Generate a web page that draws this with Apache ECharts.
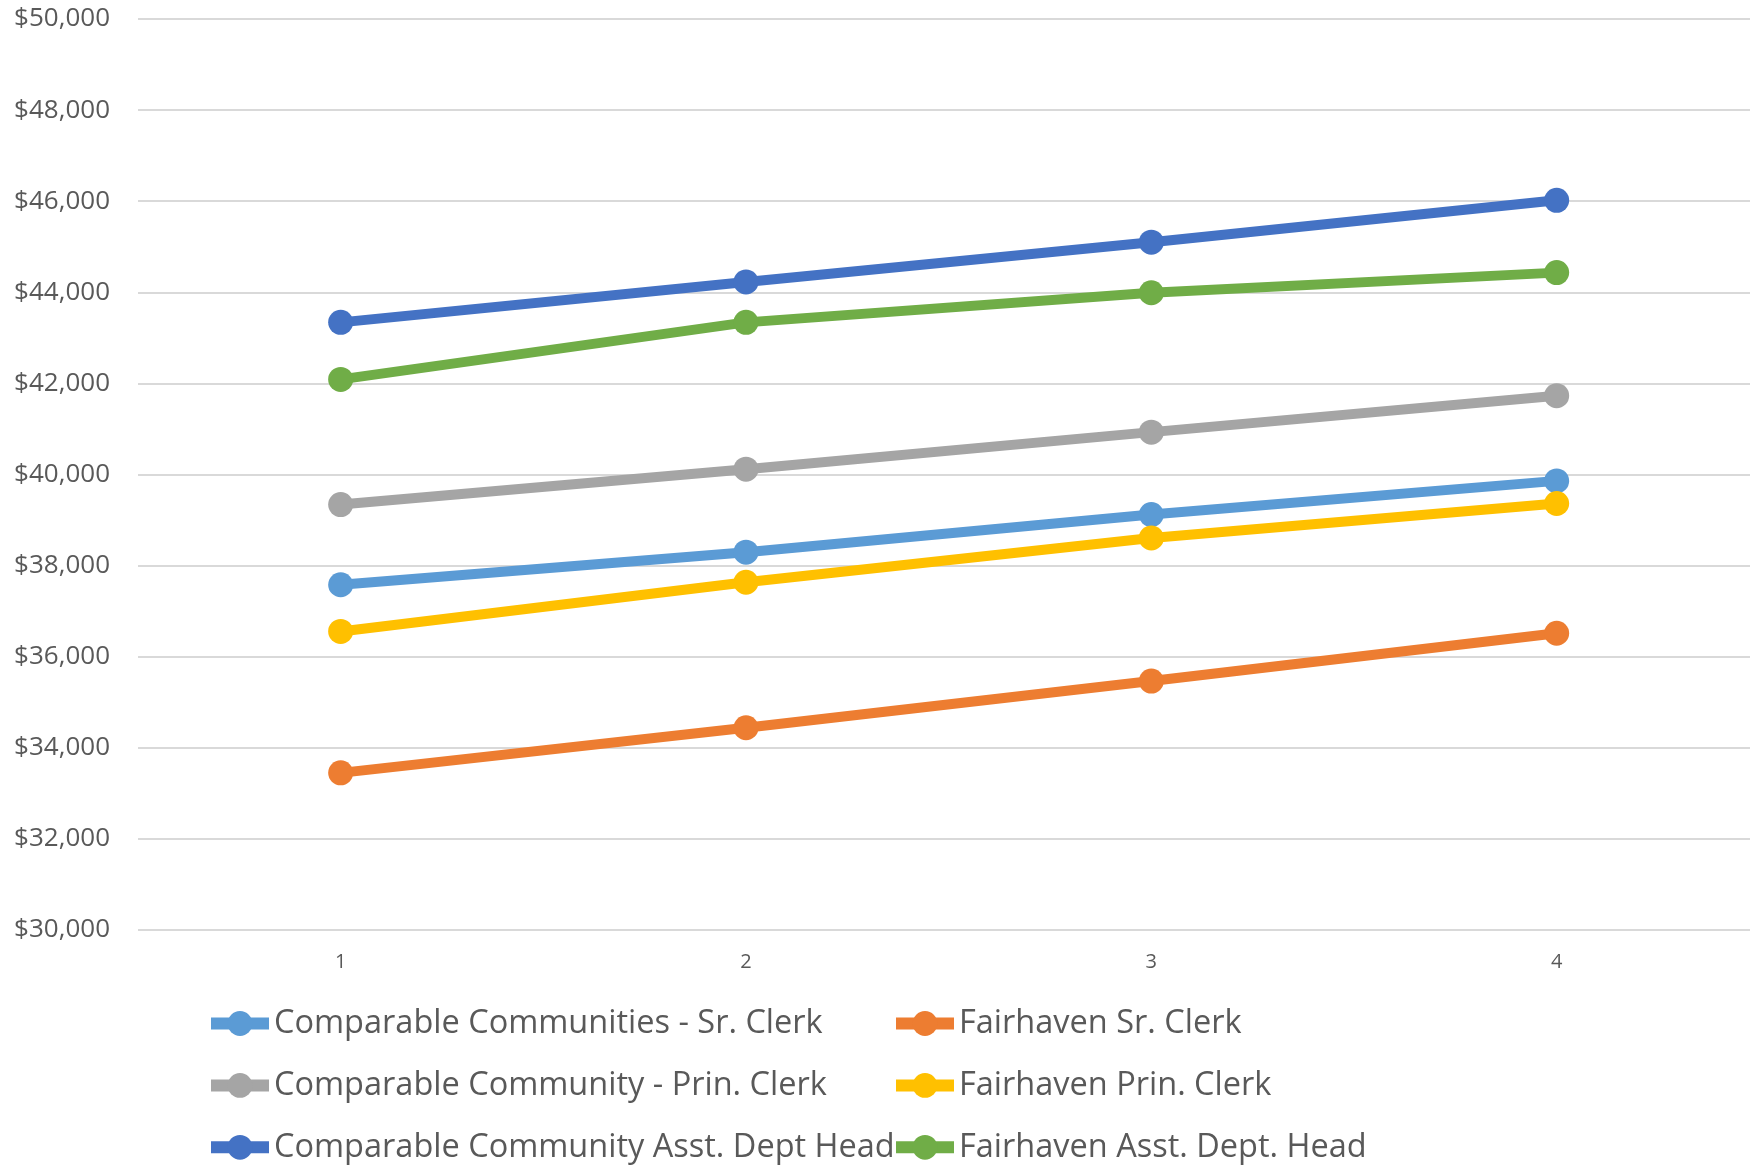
<!DOCTYPE html>
<html>
<head>
<meta charset="utf-8">
<script src="https://cdn.jsdelivr.net/npm/echarts@6/dist/echarts.min.js"></script>
<style>
html,body{margin:0;padding:0;background:#fff;}
#chart{width:1750px;height:1165px;}
</style>
</head>
<body>
<div id="chart"></div>
<script>
const categories = ['1', '2', '3', '4'];
const seriesNames = [
  'Comparable Communities - Sr. Clerk',
  'Fairhaven Sr. Clerk',
  'Comparable Community - Prin. Clerk',
  'Fairhaven Prin. Clerk',
  'Comparable Community Asst. Dept Head',
  'Fairhaven Asst. Dept. Head'
];
const compSrClerk = [37580, 38295, 39120, 39860];
const fairSrClerk = [33450, 34440, 35465, 36515];
const compPrinClerk = [39340, 40117, 40930, 41730];
const fairPrinClerk = [36555, 37635, 38608, 39363];
const compAsstHead = [43340, 44227, 45100, 46020];
const fairAsstHead = [42088, 43340, 43990, 44432];
const seriesValues = [compSrClerk, fairSrClerk, compPrinClerk, fairPrinClerk, compAsstHead, fairAsstHead];
const colors = ['#5B9BD5', '#ED7D31', '#A5A5A5', '#FFC000', '#4472C4', '#70AD47'];

const FONT = '"Open Sans", "DejaVu Sans", sans-serif';
const chart = echarts.init(document.getElementById('chart'));

// x positions of categories: index 1..4 on a numeric axis (category band edges at 0.5, ...)
const catPos = categories.map((c, i) => i + 1);

const legendCommon = {
  orient: 'vertical',
  top: 1007,
  height: 200,
  padding: 0,
  itemWidth: 58,
  itemHeight: 31,
  itemGap: 28.9,
  lineStyle: { width: 12 },
  textStyle: { fontFamily: FONT, fontSize: 32.5, color: '#595959', lineHeight: 31 }
};

chart.setOption({
  animation: false,
  color: colors,
  grid: { left: 138, right: 0, top: 19, bottom: 235, containLabel: false },
  legend: [
    Object.assign({}, legendCommon, { left: 205, data: [seriesNames[0], seriesNames[2], seriesNames[4]] }),
    Object.assign({}, legendCommon, { left: 890, data: [seriesNames[1], seriesNames[3], seriesNames[5]] })
  ],
  xAxis: {
    type: 'value',
    min: 0.5,
    max: 4.477,
    axisLine: { show: false },
    axisTick: { show: false },
    splitLine: { show: false },
    axisLabel: {
      fontFamily: FONT, fontSize: 20, color: '#595959', margin: 22,
      customValues: catPos,
      formatter: v => categories[Math.round(v) - 1] || ''
    }
  },
  yAxis: {
    type: 'value',
    min: 30000,
    max: 50000,
    interval: 2000,
    axisLine: { show: false },
    axisTick: { show: false },
    splitLine: { lineStyle: { color: '#D9D9D9', width: 2 } },
    axisLabel: {
      fontFamily: FONT, fontSize: 26, color: '#595959', margin: 28,
      formatter: v => '$' + v.toLocaleString('en-US')
    }
  },
  series: seriesNames.map((name, i) => ({
    name: name,
    type: 'line',
    data: seriesValues[i].map((v, j) => [catPos[j], v]),
    symbol: 'circle',
    symbolSize: 25,
    lineStyle: { width: 10, color: colors[i] },
    itemStyle: { color: colors[i] }
  }))
});
</script>
</body>
</html>
